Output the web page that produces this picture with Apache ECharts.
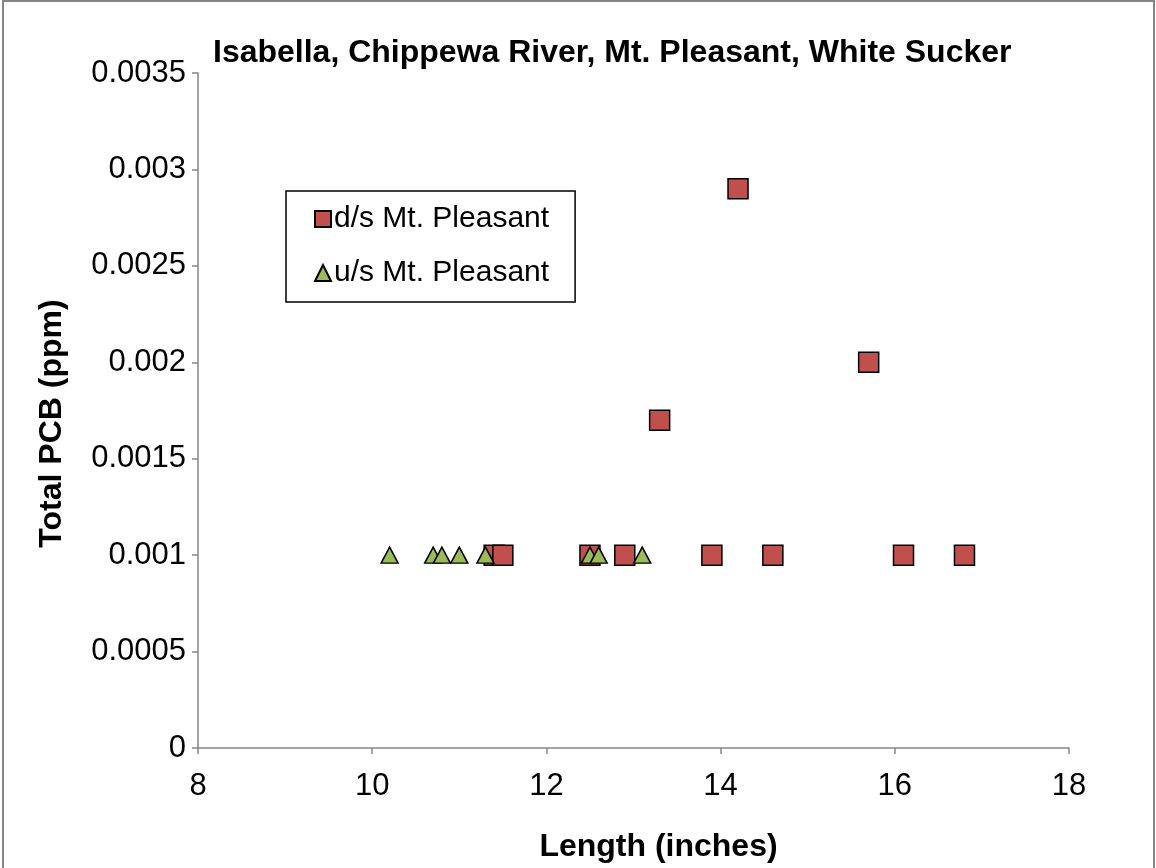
<!DOCTYPE html>
<html><head><meta charset="utf-8">
<script src="https://cdn.jsdelivr.net/npm/echarts@6/dist/echarts.min.js"></script>
<style>html,body{margin:0;padding:0;background:#fff}#c{width:1156px;height:868px}</style>
</head><body><div id="c"></div>
<script>
const titleText = 'Isabella, Chippewa River, Mt. Pleasant, White Sucker';
const xName = 'Length (inches)';
const yName = 'Total PCB (ppm)';
const seriesNames = ['d/s Mt. Pleasant', 'u/s Mt. Pleasant'];
const dsLength = [11.4, 11.5, 12.5, 12.9, 13.3, 13.9, 14.2, 14.6, 15.7, 16.1, 16.8];
const dsPCB    = [0.001, 0.001, 0.001, 0.001, 0.0017, 0.001, 0.0029, 0.001, 0.002, 0.001, 0.001];
const usLength = [10.2, 10.7, 10.8, 11.0, 11.3, 12.5, 12.6, 13.1];
const usPCB    = [0.001, 0.001, 0.001, 0.001, 0.001, 0.001, 0.001, 0.001];
const xTicks = [8, 10, 12, 14, 16, 18];
const yTicks = [0, 0.0005, 0.001, 0.0015, 0.002, 0.0025, 0.003, 0.0035];

const font = 'Liberation Sans, Arial, sans-serif';
const chart = echarts.init(document.getElementById('c'), null, {renderer: 'canvas'});
chart.setOption({
  animation: false,
  backgroundColor: '#fff',
  graphic: [{type: 'rect', shape: {x: 3, y: 1, width: 1151, height: 900}, style: {fill: 'none', stroke: '#868686', lineWidth: 2}, z: -1}],
  title: {text: titleText, left: 213, top: 37, padding: 0,
    textStyle: {fontFamily: font, fontWeight: 'bold', fontSize: 32, color: '#000'}},
  grid: {left: 198, right: 87, top: 73, bottom: 116, containLabel: false},
  legend: {
    left: 286, top: 191, orient: 'vertical', itemWidth: 16, itemHeight: 16, itemGap: 24,
    padding: [13, 26, 14, 28], borderColor: '#000', borderWidth: 1.5,
    textStyle: {fontFamily: font, fontSize: 30, color: '#000', padding: [0,0,0,-2]},
    data: seriesNames
  },
  xAxis: {
    type: 'value', min: xTicks[0], max: xTicks[xTicks.length-1], interval: 2,
    name: xName, nameLocation: 'middle', nameGap: 83,
    nameTextStyle: {fontFamily: font, fontWeight: 'bold', fontSize: 32, color: '#000', padding: [0, 0, 0, 50]},
    axisLine: {lineStyle: {color: '#868686', width: 1.5}},
    axisTick: {show: true, length: 6, lineStyle: {color: '#868686', width: 1.5}},
    axisLabel: {fontFamily: font, fontSize: 31, color: '#000', margin: 23},
    splitLine: {show: false}
  },
  yAxis: {
    type: 'value', min: yTicks[0], max: yTicks[yTicks.length-1], interval: 0.0005,
    name: yName, nameLocation: 'middle', nameGap: 130,
    nameTextStyle: {fontFamily: font, fontWeight: 'bold', fontSize: 32, color: '#000', padding: [0, 26, 0, 0]},
    axisLine: {show: true, lineStyle: {color: '#868686', width: 1.5}},
    axisTick: {show: true, length: 6, lineStyle: {color: '#868686', width: 1.5}},
    axisLabel: {fontFamily: font, fontSize: 31, color: '#000', margin: 12,
      formatter: v => String(+v.toFixed(4))},
    splitLine: {show: false}
  },
  series: [
    {name: seriesNames[0], type: 'scatter', symbol: 'rect', symbolSize: 20,
     itemStyle: {color: '#C0504D', borderColor: '#000', borderWidth: 1.5, opacity: 1},
     data: dsLength.map((x, i) => [x, dsPCB[i]])},
    {name: seriesNames[1], type: 'scatter', symbol: 'triangle', symbolSize: [17, 16],
     itemStyle: {color: '#9BBB59', borderColor: '#000', borderWidth: 1.5, opacity: 1},
     data: usLength.map((x, i) => [x, usPCB[i]])}
  ]
});
</script></body></html>
